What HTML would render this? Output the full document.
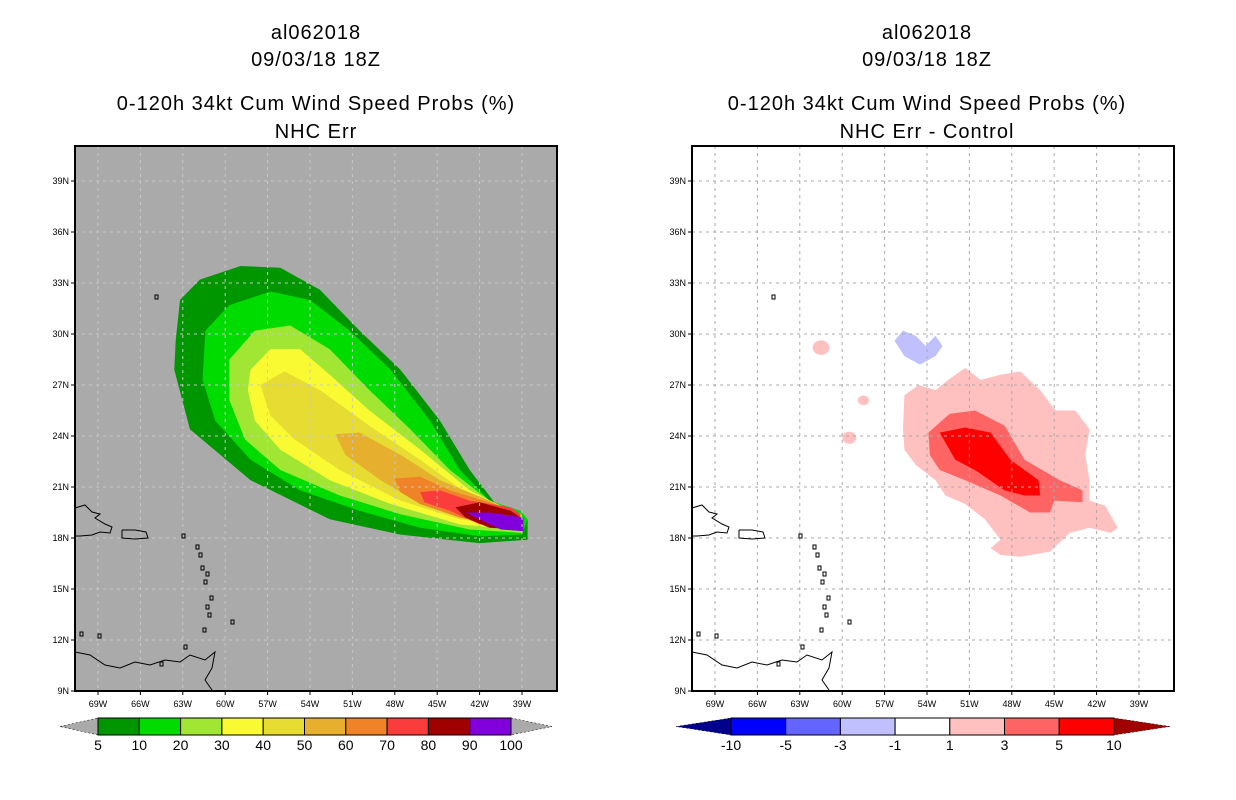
<!DOCTYPE html>
<html><head><meta charset="utf-8"><style>
body{margin:0;background:#fff;width:1236px;height:800px;overflow:hidden}
svg{display:block}
text{font-family:"Liberation Sans",sans-serif;fill:#000}
.t{font-size:20px;text-anchor:middle;letter-spacing:1px}
.tk{font-size:9px}
</style></head><body>
<svg id="svg" width="1236" height="800" xmlns="http://www.w3.org/2000/svg">
<g>
<text class="t" x="316" y="39">al062018</text>
<text class="t" x="316" y="66">09/03/18 18Z</text>
<text class="t" x="316" y="110">0-120h 34kt Cum Wind Speed Probs (%)</text>
<text class="t" x="316" y="138">NHC Err</text>
</g>
<g>
<text class="t" x="927" y="39">al062018</text>
<text class="t" x="927" y="66">09/03/18 18Z</text>
<text class="t" x="927" y="110">0-120h 34kt Cum Wind Speed Probs (%)</text>
<text class="t" x="927" y="138">NHC Err - Control</text>
</g>
<g id="L"></g>
<g id="R"></g>
<g id="CB"></g>
</svg>
<script>
const latTicks=[39,36,33,30,27,24,21,18,15,12,9];
const lonTicks=[69,66,63,60,57,54,51,48,45,42,39];
const probLevels=[5,10,20,30,40,50,60,70,80,90,100];
const probColors=["#009600","#00dc00","#a0e632","#fafa32","#e6dc32","#e6af2d","#f08228","#fa3c3c","#a00000","#8200dc"];
const diffLevels=[-10,-5,-3,-1,1,3,5,10];
const diffColors=["#00008c","#0000ff","#6464ff","#c0c0ff","#ffffff","#ffc0c0","#ff6464","#ff0000","#a00000"];
// probability contours [lonW,lat]
const prob5=[[63.6,27.9],[63.5,29.6],[63.2,32],[61.8,33.2],[58.9,34],[56.1,33.9],[53.3,32.6],[50.5,30.2],[47.6,27.9],[44.8,24.9],[42.7,22],[40.5,19.6],[38.6,19.1],[38.6,17.9],[42,17.7],[47.6,18.2],[52.6,19.1],[58.2,21.4],[62.5,24.4]];
const prob10=[[61.4,30.2],[59.7,31.7],[56.8,32.5],[54,32],[51.2,30.2],[48.3,27.9],[45.5,24.9],[43.4,22],[41.3,20.2],[39.1,19.6],[38.6,19.1],[39,18.2],[42,18.1],[46.2,18.6],[50.5,19.6],[54.7,20.8],[58.2,22.6],[60.7,24.9],[61.6,27.3]];
const prob20=[[59.7,28.5],[57.9,30.2],[55.4,30.5],[52.6,29.1],[49.8,26.7],[46.9,24.4],[44.1,22],[41.3,20.2],[39,19.4],[39,18.3],[42.7,18.5],[47.6,19.4],[51.9,20.5],[56.1,22],[58.6,23.8],[59.7,26.1]];
const prob30=[[58.2,27.9],[56.8,29.1],[54.7,29.1],[52.6,27.6],[49.8,25.5],[46.2,23.2],[42.7,20.8],[39.8,19.6],[39.1,18.5],[43.4,18.8],[48.3,20],[52.6,21.4],[56.1,23.2],[57.9,24.9],[58.4,26.7]];
const prob40=[[57.5,27],[55.8,27.8],[53.3,26.7],[49.8,24.6],[46.2,22.6],[42.7,20.5],[39.5,19.5],[39.3,18.6],[43.4,19.1],[47.6,20.2],[51.9,22],[55.1,23.8],[56.8,25.2]];
const prob50=[[52.2,24.1],[50.5,24.2],[47.6,22.9],[44.8,21.4],[41.3,20.2],[39.5,19.4],[39.5,18.6],[42.7,19.1],[46.2,20],[49,21.4],[51.5,22.9]];
const prob60=[[48,21.5],[46.2,21.6],[44.1,20.8],[40.5,19.9],[39.5,19.4],[39.5,18.6],[43.4,19.2],[46.2,20],[47.6,20.7]];
const prob70=[[46.2,20.7],[44.8,20.8],[42.7,20.2],[39.8,19.8],[39.1,19.4],[39.3,18.5],[42,18.8],[44.1,19.6],[45.9,20.1]];
const prob80=[[43.7,19.8],[42,20.1],[39.8,19.6],[39.1,19.2],[39.3,18.5],[41.3,18.6],[43,19.2]];
const prob90=[[43,19.5],[41.3,19.5],[38.9,19.2],[38.9,18.4],[40.5,18.5],[42,19.1]];
// difference contours
const diffPink=[[55.6,26.4],[54.6,27],[53.4,26.7],[52.5,27.3],[51.3,28],[50.2,27.3],[48.8,27.6],[47.4,27.8],[46,26.7],[44.9,25.5],[43.5,25.5],[42.5,24.4],[42.8,22.9],[42.5,21.4],[42.5,20.2],[41.4,19.9],[40.5,18.6],[41,18.3],[42.5,18.6],[43.9,18.3],[45.3,17.2],[47.4,16.9],[48.8,17],[49.5,17.4],[48.8,17.9],[49.9,19.1],[51.3,20],[52.7,20.5],[53.4,21.4],[54.8,22.3],[55.6,23.2],[55.7,24.4]];
const diffMid=[[53.9,24.2],[52.4,25.3],[50.6,25.5],[48.5,24.6],[47.1,22.6],[44.6,21.4],[43,20.8],[43,20.1],[45,20.2],[45.3,19.5],[46.7,19.5],[48.8,20.5],[51.3,21.4],[53.1,22],[53.8,22.9]];
const diffRed=[[53.1,24.2],[51.3,24.5],[49.5,24.2],[48.1,22.6],[46.1,21.4],[46,20.5],[47.1,20.5],[48.5,20.8],[50.6,22],[52,22.6]];
const diffBlue=[[56.3,29.6],[55.7,30.2],[54.8,29.9],[54.1,29.3],[53.4,29.9],[52.9,29.3],[53.4,28.7],[54.5,28.2],[55.6,28.7]];
const diffSpecks=[[61.5,29.2,0.6],[58.5,26.1,0.4],[59.5,23.9,0.5],[53.5,25.8,0.3]];

const NS="http://www.w3.org/2000/svg";
const X0=75,X1=557,Y0=146,Y1=691;
function xs(lonW){return 98+(69-lonW)*14.133;}
function ys(lat){return 691-(lat-9)*17;}
function mk(parent,tag,attrs){const e=document.createElementNS(NS,tag);for(const k in attrs)e.setAttribute(k,attrs[k]);parent.appendChild(e);return e;}
function pts(a){return a.map(p=>xs(p[0]).toFixed(1)+","+ys(p[1]).toFixed(1)).join(" ");}

function panel(g,dx,bg){
  g.setAttribute('transform','translate('+dx+',0)');
  const r=mk(g,'rect',{x:X0,y:Y0,width:X1-X0,height:Y1-Y0,fill:bg});
  
  
  const d=mk(g,'g',{});
  
  
  return d;
}
function axes(g,gridColor){
  const gr=mk(g,'g',{stroke:gridColor,'stroke-width':1,'stroke-dasharray':'3,4'});
  
  
  latTicks.forEach(l=>{if(l>9)mk(gr,'line',{x1:X0,x2:X1,y1:ys(l),y2:ys(l)});});
  lonTicks.forEach(l=>{mk(gr,'line',{x1:xs(l),x2:xs(l),y1:Y0,y2:Y1});});
  // coastlines (approximate)
  const cs=mk(g,'g',{fill:'none',stroke:'#000','stroke-width':1});
  
  
  mk(cs,'polyline',{points:'75,508 85,505 92,512 100,514 95,518 105,524 112,527 110,533 100,532 92,535 80,536 75,536'});
  mk(cs,'polyline',{points:'122,530 135,530 146,532 148,538 135,539 122,538 122,530'});
  mk(cs,'polyline',{points:'75,652 90,655 105,665 120,668 135,662 150,665 165,660 180,662 190,655 205,660 215,652 212,668 205,680 212,690'});
  [[182,534],[196,545],[199,553],[201,566],[206,572],[204,580],[210,596],[206,605],[208,613],[203,628],[231,620],[184,645],[160,662],[80,632],[98,634],[155,295]].forEach(p=>{mk(cs,'rect',{x:p[0],y:p[1],width:3,height:4});});
  const f=mk(g,'rect',{x:X0,y:Y0,width:X1-X0,height:Y1-Y0,fill:'none',stroke:'#000','stroke-width':2});
  
  
  const tl=mk(g,'g',{});
  
  
  latTicks.forEach(l=>{mk(tl,'line',{x1:X0-4,x2:X0,y1:ys(l),y2:ys(l),stroke:'#000'});
    const t=mk(tl,'text',{x:X0-6,y:ys(l)+3,'text-anchor':'end',class:'tk'});t.textContent=l+'N';
    
    });
  lonTicks.forEach(l=>{mk(tl,'line',{x1:xs(l),x2:xs(l),y1:Y1,y2:Y1+4,stroke:'#000'});
    const t=mk(tl,'text',{x:xs(l),y:Y1+16,'text-anchor':'middle',class:'tk'});t.textContent=l+'W';
    
    });
}
// left
const L=document.getElementById('L');
const dL=panel(L,0,'#aaaaaa');
[prob5,prob10,prob20,prob30,prob40,prob50,prob60,prob70,prob80,prob90].forEach((p,i)=>{
  const e=mk(dL,'polygon',{points:pts(p),fill:probColors[i]});
  
  
});
axes(L,'#c8c8c8');
// right
const R=document.getElementById('R');
const dR=panel(R,617,'#ffffff');
[[diffPink,5],[diffMid,6],[diffRed,7],[diffBlue,3]].forEach(([p,ci])=>{
  const e=mk(dR,'polygon',{points:pts(p),fill:diffColors[ci]});
  
  
});
diffSpecks.forEach(s=>{
  const e=mk(dR,'ellipse',{cx:xs(s[0]),cy:ys(s[1]),rx:s[2]*14,ry:s[2]*12,fill:diffColors[5]});
  
  
});
axes(R,'#aaaaaa');
// colorbars
const CB=document.getElementById('CB');
function colorbar(x0,w,y,h,cols,labels,leftTri,rightTri,lx0,rx1,name){
  const g=mk(CB,'g',{});
  
  
  mk(g,'polygon',{points:`${lx0},${y+h/2} ${x0},${y} ${x0},${y+h}`,fill:leftTri,stroke:'#000','stroke-width':0.5,'stroke-dasharray':'2,2'});
  const xe=x0+w*cols.length;
  mk(g,'polygon',{points:`${rx1},${y+h/2} ${xe},${y} ${xe},${y+h}`,fill:rightTri,stroke:'#000','stroke-width':0.5,'stroke-dasharray':'2,2'});
  cols.forEach((c,i)=>{const r=mk(g,'rect',{x:x0+i*w,y:y,width:w,height:h,fill:c,stroke:'#000','stroke-width':1});
    
    });
  labels.forEach((l,i)=>{const t=mk(g,'text',{x:x0+i*w,y:y+h+15,'text-anchor':'middle','font-size':'14px'});t.textContent=l;
    
    });
}
colorbar(98,41.3,718,17,probColors,probLevels,'#aaaaaa','#aaaaaa',60,552,'prob-colorbar');
colorbar(731,54.7,718,17,diffColors.slice(1,8),diffLevels,diffColors[0],diffColors[8],676,1170,'diff-colorbar');
</script>
</body></html>
